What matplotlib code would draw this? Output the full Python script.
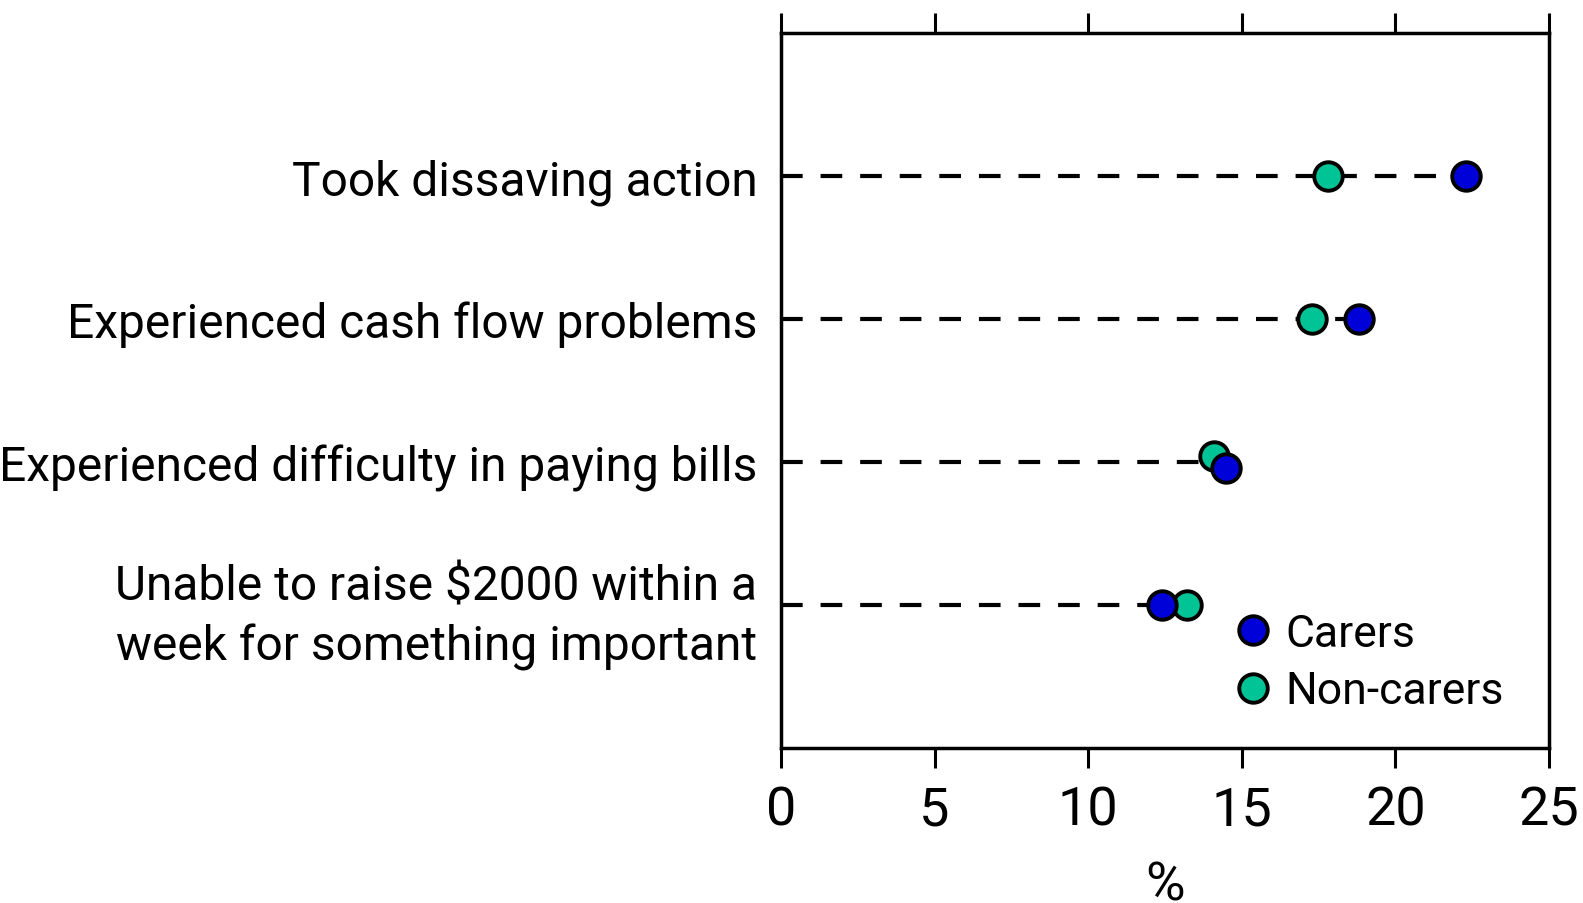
import matplotlib.pyplot as plt

categories = ["Took dissaving action",
              "Experienced cash flow problems",
              "Experienced difficulty in paying bills",
              "Unable to raise $2000 within a\nweek for something important"]
carers = [22.3, 18.8, 14.5, 12.4]
non_carers = [17.8, 17.3, 14.1, 13.2]
# small vertical nudge so overlapping dots stay visible
carers_nudge = [0, 0, 0.045, 0]
non_carers_nudge = [0, 0, -0.045, 0]
x_ticks = [0, 5, 10, 15, 20, 25]

blue = "#0000d8"
green = "#00c496"

plt.rcParams['font.family'] = ['Roboto', 'DejaVu Sans']

fig = plt.figure(figsize=(15.83, 9.04), dpi=100)
ax = fig.add_axes([781/1583, 1-749/904, 768/1583, 715/904])

ypos = list(range(len(categories)))
for i in ypos:
    ax.plot([0, max(carers[i], non_carers[i])], [i, i], color='black', lw=3,
            linestyle=(0, (5.2, 4.3)), zorder=1)

ax.plot(non_carers, [y + d for y, d in zip(ypos, non_carers_nudge)], 'o', color=green,
        markersize=20.5, markeredgecolor='black', markeredgewidth=2.8, label='Non-carers', zorder=3)
ax.plot(carers, [y + d for y, d in zip(ypos, carers_nudge)], 'o', color=blue,
        markersize=20.5, markeredgecolor='black', markeredgewidth=2.8, label='Carers', zorder=4)

ax.set_xlim(0, 25)
ax.set_ylim(len(categories), -1)
ax.set_yticks(ypos)
ax.set_yticklabels(categories, fontsize=34.5, linespacing=1.35)
ax.tick_params(axis='y', length=0, pad=17)
ax.set_xticks(x_ticks)
ax.tick_params(axis='x', labelsize=39, length=14.5, width=2.2, direction='out',
               top=True, bottom=True, pad=12)
for s in ax.spines.values():
    s.set_linewidth(2.5)
ax.set_xlabel('%', fontsize=39, labelpad=17)

h, l = ax.get_legend_handles_labels()
ax.legend(h[::-1], l[::-1], loc='lower left', bbox_to_anchor=(0.585, 0.05), frameon=False,
          fontsize=32, handlelength=1.0, handletextpad=0.25, labelspacing=0.35,
          borderpad=0, borderaxespad=0)

fig.savefig('out.png', dpi=100)
